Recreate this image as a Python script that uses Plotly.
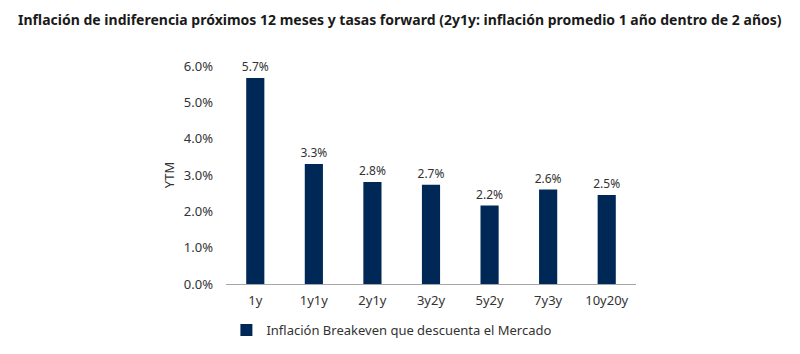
import plotly.graph_objects as go

categories = ["1y", "1y1y", "2y1y", "3y2y", "5y2y", "7y3y", "10y20y"]
values = [5.67, 3.30, 2.81, 2.73, 2.16, 2.60, 2.45]
series_name = "Inflación Breakeven que descuenta el Mercado"
y_ticks = [0, 1, 2, 3, 4, 5, 6]
y_tick_labels = ["0.0%", "1.0%", "2.0%", "3.0%", "4.0%", "5.0%", "6.0%"]
title = "Inflación de indiferencia próximos 12 meses y tasas forward (2y1y: inflación promedio 1 año dentro de 2 años)"

font_family = "Noto Sans"
text_color = "#333333"

fig = go.Figure()
fig.add_trace(go.Bar(
    x=categories,
    y=values,
    name=series_name,
    marker=dict(color="#002857", line=dict(width=0)),
    text=[f"{v:.1f}%" for v in values],
    textposition="outside",
    constraintext="none",
    textfont=dict(family=font_family, size=12, color=text_color),
    cliponaxis=False,
    showlegend=True,
))

fig.update_layout(
    width=800,
    height=354,
    margin=dict(l=226, r=164, t=66, b=70, autoexpand=False),
    paper_bgcolor="white",
    plot_bgcolor="white",
    bargap=0.69,
    title=dict(
        text="<b>" + title + "</b>",
        x=0.0225, xanchor="left", xref="container",
        y=0.943, yanchor="middle", yref="container",
        font=dict(family=font_family, size=14, color="#1a1a1a"),
    ),
    font=dict(family=font_family, size=13, color=text_color),
    showlegend=True,
    legend=dict(
        orientation="h",
        x=0.283, xanchor="left", xref="container",
        y=0.068, yanchor="middle", yref="container",
        font=dict(family=font_family, size=13, color=text_color),
    ),
    xaxis=dict(
        showgrid=False,
        showline=True,
        linecolor="#a6a6a6",
        linewidth=1,
        ticks="",
        ticklabelstandoff=4,
        tickfont=dict(family=font_family, size=13, color=text_color),
    ),
    yaxis=dict(
        range=[0, 6],
        tickvals=y_ticks,
        ticktext=y_tick_labels,
        showgrid=False,
        showline=False,
        zeroline=False,
        ticks="",
        ticklabelstandoff=12,
        tickfont=dict(family=font_family, size=13, color=text_color),
        title=dict(text="YTM", font=dict(family=font_family, size=13, color=text_color), standoff=6),
    ),
)

fig.write_html("out.html")
